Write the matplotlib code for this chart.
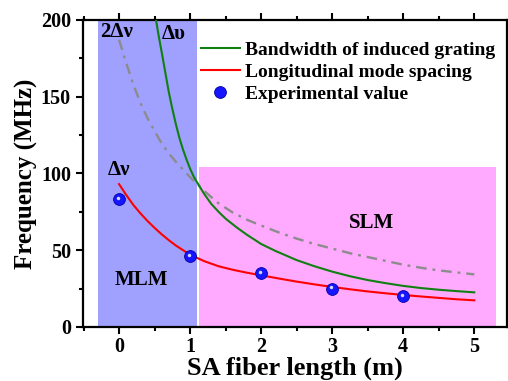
import numpy as np
import matplotlib.pyplot as plt
import matplotlib.transforms as mtransforms

plt.rcParams['font.family'] = ['Liberation Serif', 'DejaVu Serif']
plt.rcParams['font.weight'] = 'bold'

# data
len_red = [0.0, 0.1, 0.2, 0.3, 0.4, 0.5, 0.6, 0.7, 0.8, 0.9, 1.0, 1.2, 1.4, 1.6, 1.8, 2.0,
           2.25, 2.5, 2.75, 3.0, 3.25, 3.5, 3.75, 4.0, 4.25, 4.5, 4.75, 5.0]
spacing = [93, 86, 79.5, 74, 69, 64.5, 60.3, 56.5, 53, 50, 47, 42.8, 39.5, 37.2, 35.3, 33.6,
           31.5, 29.5, 27.7, 26, 24.5, 23.1, 21.9, 20.8, 19.8, 18.9, 18.0, 17.3]

len_gray = [0.0, 0.1, 0.2, 0.3, 0.4, 0.5, 0.6, 0.7, 0.8, 0.9, 1.0, 1.2, 1.4, 1.6, 1.8, 2.0,
            2.25, 2.5, 2.75, 3.0, 3.25, 3.5, 3.75, 4.0, 4.25, 4.5, 4.75, 5.0]
spacing2 = [187, 172, 158, 146, 136, 127.5, 119.5, 113, 107.5, 102.5, 97.5, 88.5, 80.5, 74.5,
            69.8, 66, 61.5, 57.5, 54, 51, 48, 45.5, 43, 40.5, 38.5, 36.8, 35.5, 34.2]

len_green = [0.52, 0.56, 0.60, 0.65, 0.70, 0.75, 0.80, 0.85, 0.90, 0.95, 1.00, 1.05, 1.10,
             1.20, 1.30, 1.40, 1.50, 1.65, 1.80, 2.00, 2.20, 2.50, 2.75, 3.00, 3.25, 3.50,
             3.75, 4.00, 4.25, 4.50, 4.75, 5.00]
bandwidth = [200, 189, 179, 166, 153, 142, 132, 123, 115.5, 109, 103, 98, 94,
             86.5, 80, 75, 70.5, 65, 60, 54, 49.5, 43.5, 39.5, 36, 33, 30.5,
             28.5, 26.7, 25.3, 24.2, 23.3, 22.5]

len_exp = [0, 1, 2, 3, 4]
freq_exp = [83, 46, 35, 25, 20]

mlm_span = (-0.3, 1.1)
slm_span = (1.13, 5.3)
slm_top = 104

fig = plt.figure(figsize=(5.08, 3.81), dpi=100)
ax = fig.add_axes([0.163, 0.142, 0.835, 0.806])

# shaded regions
ax.axvspan(mlm_span[0], mlm_span[1], ymin=0, ymax=1, color='#a0a0ff', lw=0, zorder=0)
ax.fill_between(slm_span, 0, slm_top, color='#ffaaff', lw=0, zorder=0)

ax.plot(len_gray, spacing2, color='#8c8c8c', lw=1.7, ls=(0, (4.5, 2.5, 1.2, 2.5)), zorder=2)
ax.plot(len_green, bandwidth, color='#108010', lw=1.5, zorder=3, label='Bandwidth of induced grating')
ax.plot(len_red, spacing, color='#ff0000', lw=1.5, zorder=3, label='Longitudinal mode spacing')
ax.plot(len_exp, freq_exp, 'o', ms=8.5, color='#1515ff', mec='#0000a0', mew=0.6, zorder=4,
        label='Experimental value')
# little shine on the balls
shine = mtransforms.offset_copy(ax.transData, fig=fig, x=-1.5, y=1.5, units='dots')
ax.plot(len_exp, freq_exp, 'o', ms=2.5, color='#d8d8ff', mew=0, transform=shine, zorder=5)

# labels inside
ax.text(-0.04, 192, '2\u0394\u03bd', fontsize=15, ha='center', va='center')
ax.text(0.77, 191, '\u0394\u03c5', fontsize=15, ha='center', va='center')
ax.text(0.0, 102, '\u0394\u03bd', fontsize=15, ha='center', va='center')
ax.text(0.31, 30.5, 'MLM', fontsize=15, ha='center', va='center')
ax.text(3.55, 67.5, 'SLM', fontsize=15, ha='center', va='center')

ax.set_xlim(-0.51, 5.46)
ax.set_ylim(0, 200)
ax.set_xticks([0, 1, 2, 3, 4, 5])
ax.set_xticks(np.arange(-0.5, 5.5, 0.5), minor=True)
ax.set_yticks([0, 50, 100, 150, 200])
ax.set_yticks(np.arange(0, 201, 25), minor=True)
ax.tick_params(which='both', direction='out', width=1.5, top=True, right=True, labelsize=14.5)
ax.tick_params(which='major', length=5)
ax.tick_params(which='minor', length=3)
ax.tick_params(axis='x', which='major', pad=2)
for s in ax.spines.values():
    s.set_linewidth(1.6)

ax.set_xlabel('SA fiber length (m)', fontsize=19, fontweight='bold', labelpad=0)
ax.set_ylabel('Frequency (MHz)', fontsize=18, fontweight='bold', labelpad=2)

ax.legend(loc='upper left', bbox_to_anchor=(0.26, 0.955), frameon=False, fontsize=14,
          handlelength=2.0, handletextpad=0.25, labelspacing=0.22, borderaxespad=0)

fig.savefig('out.png', dpi=100)
